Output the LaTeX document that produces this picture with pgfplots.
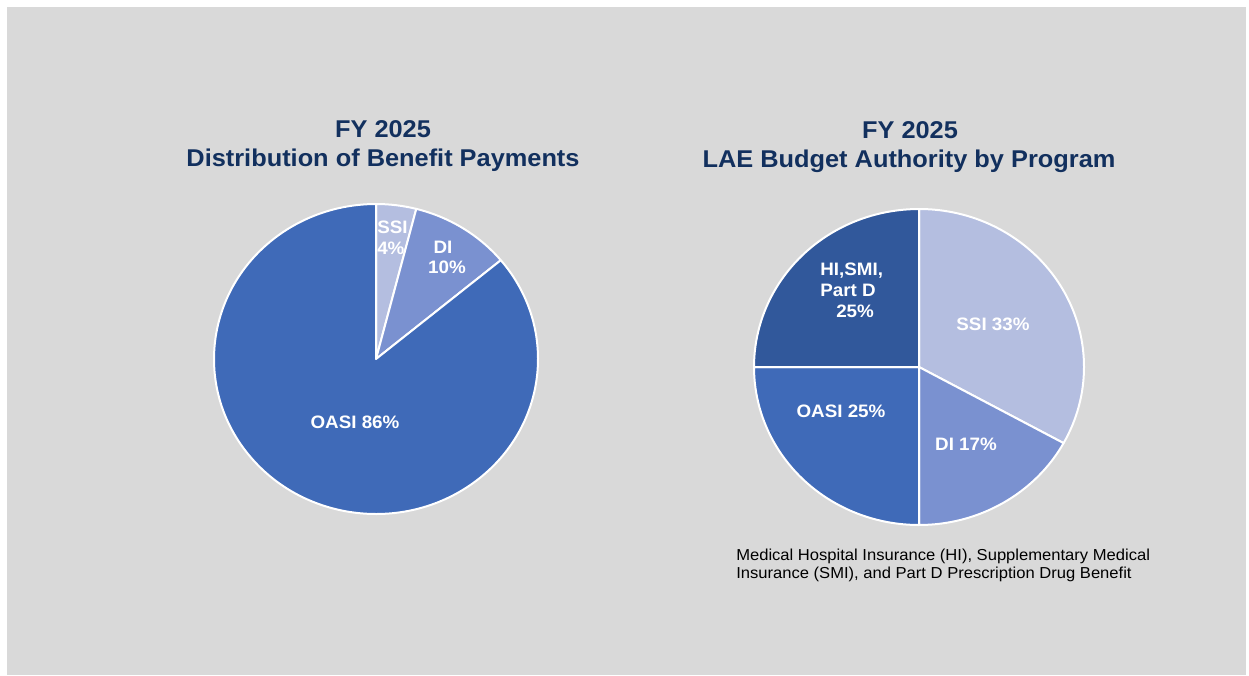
\documentclass[border=0pt]{standalone}
\usepackage{fontspec}
\setmainfont{Liberation Sans}
\usepackage{graphicx}
\usepackage{pgfplots}
\pgfplotsset{compat=1.18}

\definecolor{bg}{HTML}{D9D9D9}
\definecolor{ssi}{HTML}{B4BEE0}
\definecolor{di}{HTML}{7A91D0}
\definecolor{oasi}{HTML}{3F6AB8}
\definecolor{hi}{HTML}{31589B}
\definecolor{navy}{HTML}{12305E}

% the picture is a little wider than tall, text too
\newcommand\sx[1]{\scalebox{1.045}[1]{#1}}

% one wedge: from cumulative percent #1 to #2, clockwise from 12 o'clock
\newcommand\slice[5]{%
  \filldraw[fill=#3, draw=white, line width=1.5pt, line join=round]
    (axis cs:0,0) -- (axis cs:{cos(90-3.6*#1)},{sin(90-3.6*#1)})
    arc[start angle={90-3.6*#1}, end angle={90-3.6*#2},
        x radius=#4, y radius=#5] -- cycle;}

\pgfplotsset{pie/.style={hide axis, clip=false, anchor=center,
  xmin=-1, xmax=1, ymin=-1, ymax=1}}

\begin{document}
\begin{tikzpicture}[x=0.75pt, y=-0.75pt]
\fill[white] (0,0) rectangle (1249,675);
\fill[bg] (7,7) rectangle (1246,675);
\useasboundingbox (0,0) rectangle (1249,675);

% left pie: benefit payments
\begin{axis}[pie, at={(282pt,-269.25pt)}, x=121.5pt, y=116.25pt]
\slice{0}{4}{ssi}{121.5pt}{116.25pt}
\slice{4}{14}{di}{121.5pt}{116.25pt}
\slice{14}{100}{oasi}{121.5pt}{116.25pt}
\end{axis}

% right pie: LAE budget authority
\begin{axis}[pie, at={(689.25pt,-275.25pt)}, x=123.75pt, y=118.5pt]
\slice{0}{33}{ssi}{123.75pt}{118.5pt}
\slice{33}{50}{di}{123.75pt}{118.5pt}
\slice{50}{75}{oasi}{123.75pt}{118.5pt}
\slice{75}{100}{hi}{123.75pt}{118.5pt}
\end{axis}

% titles
\begin{scope}[every node/.style={text=navy, font=\fontsize{18.2}{21.75}\selectfont\bfseries, anchor=base, inner sep=0pt}]
\node at (383,137) {\sx{FY 2025}};
\node at (383,166) {\sx{Distribution of Benefit Payments}};
\node at (910,138) {\sx{FY 2025}};
\node at (909,167) {\sx{LAE Budget Authority by Program}};
\end{scope}

% slice labels
\begin{scope}[every node/.style={text=white, font=\fontsize{13.5}{15.4}\selectfont\bfseries, anchor=base, inner sep=0pt}]
\node[anchor=base west] at (377,233) {\sx{SSI}};
\node[anchor=base west] at (377,254) {\sx{4\%}};
\node at (443,253) {\sx{DI}};
\node at (447,273) {\sx{10\%}};
\node at (355,428) {\sx{OASI 86\%}};
\node[anchor=base west] at (820,275) {\sx{HI,SMI,}};
\node[anchor=base west] at (820,296) {\sx{Part D}};
\node[anchor=base west] at (836,317) {\sx{25\%}};
\node at (993,330) {\sx{SSI 33\%}};
\node at (841,417) {\sx{OASI 25\%}};
\node at (966,450) {\sx{DI 17\%}};
\end{scope}

% footnote
\begin{scope}[every node/.style={text=black, font=\fontsize{11.9}{13.9}\selectfont, anchor=base west, inner sep=0pt}]
\node at (736,560) {\sx{Medical Hospital Insurance (HI), Supplementary Medical}};
\node at (736,578) {\sx{Insurance (SMI), and Part D Prescription Drug Benefit}};
\end{scope}
\end{tikzpicture}
\end{document}
